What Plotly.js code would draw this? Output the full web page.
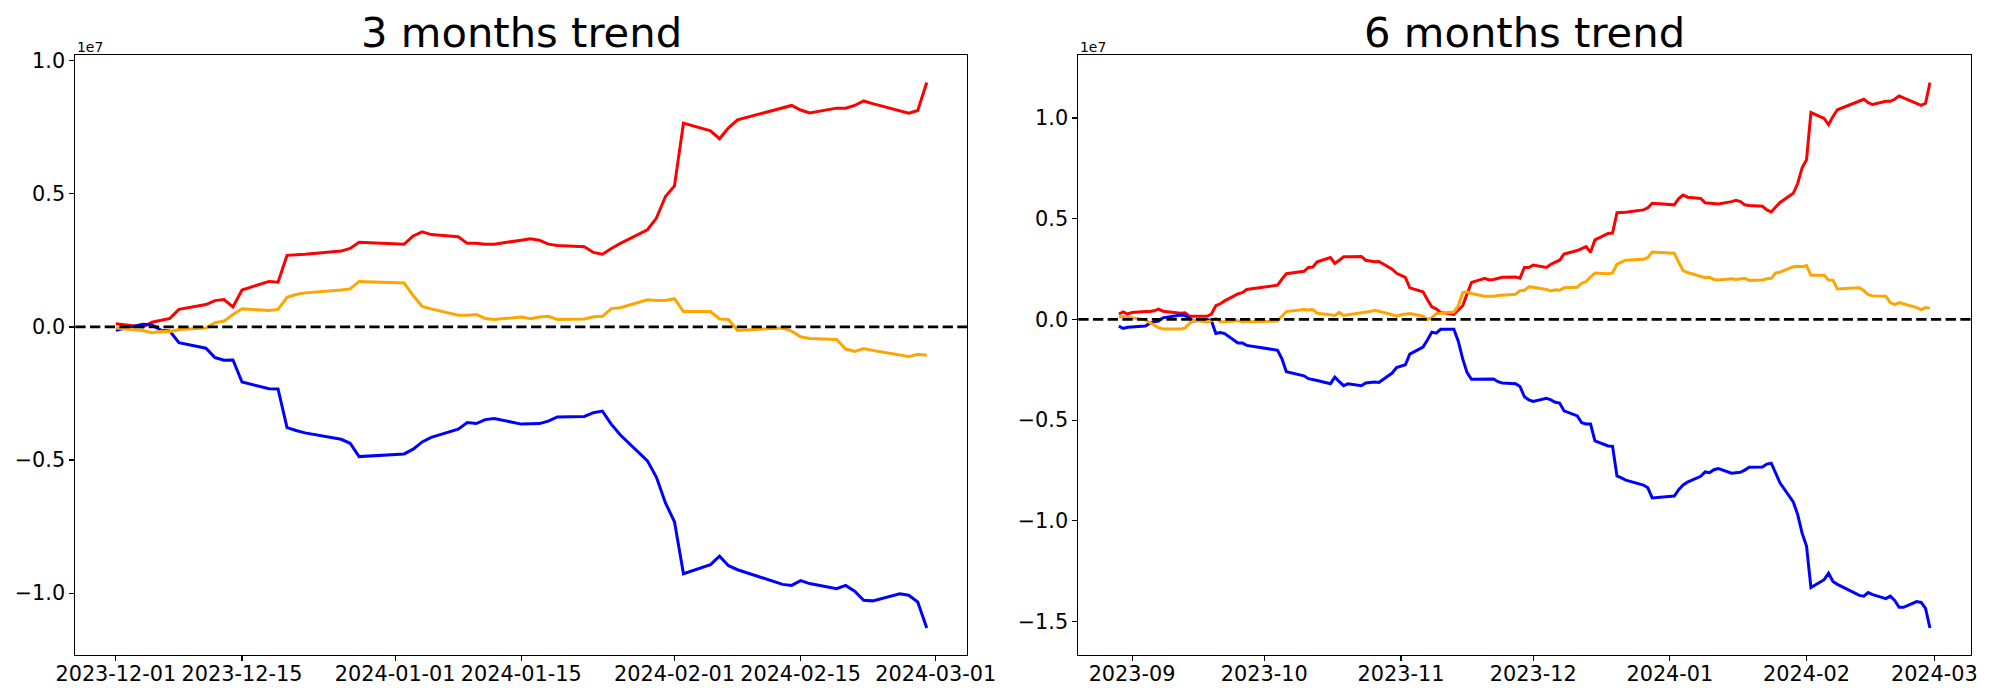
<!DOCTYPE html>
<html><head><meta charset="utf-8">
<script src="https://cdn.plot.ly/plotly-3.0.1.min.js"></script>
<style>html,body{margin:0;padding:0;background:#fff}#chart{width:2000px;height:700px}</style>
</head><body><div id="chart"></div>
<script>
// Trading days, Dec 2023 - Feb 2024 (3 months window)
const dates3m = ["2023-12-01","2023-12-04","2023-12-05","2023-12-06","2023-12-07","2023-12-08","2023-12-11","2023-12-12","2023-12-13","2023-12-14","2023-12-15","2023-12-18","2023-12-19","2023-12-20","2023-12-21","2023-12-22","2023-12-26","2023-12-27","2023-12-28",
"2024-01-02","2024-01-03","2024-01-04","2024-01-05","2024-01-08","2024-01-09","2024-01-10","2024-01-11","2024-01-12","2024-01-15","2024-01-16","2024-01-17","2024-01-18","2024-01-19","2024-01-22","2024-01-23","2024-01-24","2024-01-25","2024-01-26","2024-01-29","2024-01-30","2024-01-31",
"2024-02-01","2024-02-02","2024-02-05","2024-02-06","2024-02-07","2024-02-08","2024-02-13","2024-02-14","2024-02-15","2024-02-16","2024-02-19","2024-02-20","2024-02-21","2024-02-22","2024-02-23","2024-02-26","2024-02-27","2024-02-28","2024-02-29"];
// Extra trading days before Dec 2023 for the 6 months window
const datesEarly = ["2023-08-29","2023-08-30","2023-08-31","2023-09-01","2023-09-04","2023-09-05","2023-09-06","2023-09-07","2023-09-08","2023-09-11","2023-09-12","2023-09-13","2023-09-14","2023-09-15","2023-09-18","2023-09-19","2023-09-20","2023-09-21","2023-09-22","2023-09-25","2023-09-26","2023-09-27",
"2023-10-04","2023-10-05","2023-10-06","2023-10-10","2023-10-11","2023-10-12","2023-10-13","2023-10-16","2023-10-17","2023-10-18","2023-10-19","2023-10-20","2023-10-23","2023-10-24","2023-10-25","2023-10-26","2023-10-27","2023-10-30","2023-10-31",
"2023-11-01","2023-11-02","2023-11-03","2023-11-06","2023-11-07","2023-11-08","2023-11-09","2023-11-10","2023-11-13","2023-11-14","2023-11-15","2023-11-16","2023-11-17","2023-11-20","2023-11-21","2023-11-22","2023-11-23","2023-11-24","2023-11-27","2023-11-28","2023-11-29","2023-11-30"];
const dates6m = datesEarly.concat(dates3m);

// Values in units of 1e7
const red3m = [0.012,0.000,0.018,0.025,0.032,0.066,0.084,0.099,0.103,0.075,0.139,0.171,0.168,0.269,0.271,0.273,0.285,0.295,0.318,
0.311,0.342,0.357,0.347,0.339,0.314,0.314,0.311,0.311,0.326,0.331,0.326,0.311,0.306,0.301,0.280,0.273,0.295,0.314,0.365,0.409,0.490,
0.530,0.766,0.737,0.707,0.748,0.778,0.823,0.832,0.815,0.804,0.822,0.822,0.832,0.849,0.839,0.812,0.803,0.813,0.918];
const blue3m = [-0.013,0.010,0.007,-0.012,-0.016,-0.059,-0.080,-0.115,-0.125,-0.124,-0.207,-0.232,-0.233,-0.378,-0.389,-0.398,-0.422,-0.437,-0.487,
-0.477,-0.459,-0.432,-0.415,-0.384,-0.359,-0.363,-0.348,-0.344,-0.365,-0.364,-0.363,-0.354,-0.338,-0.336,-0.322,-0.316,-0.366,-0.406,-0.503,-0.565,-0.661,
-0.732,-0.927,-0.893,-0.861,-0.897,-0.912,-0.967,-0.971,-0.953,-0.964,-0.983,-0.971,-0.993,-1.027,-1.029,-1.002,-1.008,-1.033,-1.131];
const orange3m = [-0.004,-0.013,-0.022,-0.016,-0.018,-0.010,-0.004,0.016,0.022,0.047,0.068,0.062,0.066,0.111,0.122,0.128,0.139,0.143,0.171,
0.165,0.118,0.077,0.068,0.044,0.044,0.047,0.032,0.028,0.037,0.031,0.037,0.040,0.028,0.030,0.038,0.040,0.069,0.072,0.102,0.099,0.099,
0.106,0.058,0.058,0.030,0.028,-0.013,-0.004,-0.016,-0.037,-0.043,-0.047,-0.083,-0.092,-0.081,-0.088,-0.105,-0.112,-0.103,-0.106];

const red6m = [0.027,0.037,0.027,
0.035,0.039,0.039,0.043,0.051,0.041,0.033,0.031,0.033,0.016,0.016,0.016,0.027,0.068,0.078,0.092,0.127,0.133,0.149,
0.170,0.200,0.227,0.239,0.258,0.260,0.286,0.307,0.278,0.294,0.311,0.311,0.313,0.294,0.290,0.286,0.288,0.250,0.229,
0.219,0.209,0.157,0.137,0.098,0.063,0.053,0.035,0.025,0.045,0.068,0.127,0.184,0.204,0.196,0.198,0.205,0.209,0.211,0.205,0.258,0.258,
0.270,0.258,0.274,0.284,0.294,0.325,0.342,0.352,0.362,0.333,0.395,0.427,0.429,0.530,0.530,0.532,0.544,0.554,0.577,
0.569,0.600,0.618,0.607,0.601,0.579,0.577,0.573,0.573,0.585,0.591,0.585,0.569,0.566,0.562,0.544,0.534,0.558,0.581,0.626,0.675,0.753,
0.793,1.027,0.998,0.967,1.008,1.041,1.085,1.093,1.076,1.067,1.083,1.083,1.093,1.110,1.100,1.074,1.063,1.073,1.176];
const blue6m = [-0.033,-0.045,-0.039,
-0.037,-0.033,-0.020,-0.012,-0.008,0.008,0.018,0.022,0.020,0.008,-0.008,0.000,-0.006,-0.070,-0.065,-0.070,-0.117,-0.117,-0.129,
-0.153,-0.196,-0.260,-0.280,-0.294,-0.297,-0.303,-0.319,-0.286,-0.309,-0.329,-0.319,-0.329,-0.315,-0.313,-0.311,-0.313,-0.266,-0.239,
-0.231,-0.225,-0.172,-0.137,-0.102,-0.063,-0.068,-0.049,-0.049,-0.108,-0.196,-0.264,-0.297,-0.297,-0.294,-0.296,-0.309,-0.315,-0.319,-0.333,-0.384,-0.399,
-0.407,-0.391,-0.399,-0.411,-0.415,-0.454,-0.479,-0.513,-0.519,-0.519,-0.603,-0.628,-0.630,-0.777,-0.787,-0.798,-0.822,-0.836,-0.886,
-0.877,-0.845,-0.822,-0.808,-0.779,-0.757,-0.761,-0.746,-0.740,-0.763,-0.761,-0.759,-0.748,-0.734,-0.732,-0.718,-0.714,-0.767,-0.812,-0.906,-0.969,-1.061,
-1.125,-1.331,-1.292,-1.260,-1.301,-1.315,-1.370,-1.374,-1.356,-1.366,-1.386,-1.374,-1.395,-1.429,-1.429,-1.401,-1.405,-1.434,-1.532];
const orange6m = [0.012,0.014,0.010,
0.008,-0.002,-0.016,-0.029,-0.041,-0.047,-0.049,-0.047,-0.043,-0.020,-0.004,-0.012,-0.006,0.006,-0.012,-0.012,-0.006,-0.012,-0.012,
-0.008,0.016,0.039,0.049,0.047,0.049,0.031,0.023,0.020,0.035,0.020,0.023,0.031,0.037,0.039,0.045,0.041,0.023,0.016,
0.023,0.027,0.029,0.016,0.000,0.008,0.029,0.031,0.037,0.068,0.133,0.137,0.129,0.115,0.115,0.115,0.119,0.121,0.125,0.143,0.145,0.162,
0.160,0.149,0.141,0.147,0.145,0.157,0.160,0.180,0.188,0.211,0.231,0.227,0.231,0.274,0.286,0.294,0.299,0.307,0.335,
0.329,0.284,0.243,0.233,0.211,0.207,0.209,0.198,0.196,0.202,0.198,0.202,0.204,0.194,0.196,0.202,0.204,0.231,0.235,0.262,0.264,0.262,
0.268,0.219,0.219,0.196,0.194,0.151,0.157,0.143,0.123,0.117,0.115,0.084,0.074,0.084,0.078,0.059,0.049,0.059,0.055];

const ticks3m = ["2023-12-01","2023-12-15","2024-01-01","2024-01-15","2024-02-01","2024-02-15","2024-03-01"];
const tickText3m = ["2023-12-01","2023-12-15","2024-01-01","2024-01-15","2024-02-01","2024-02-15","2024-03-01"];
const ticks6m = ["2023-09-01","2023-10-01","2023-11-01","2023-12-01","2024-01-01","2024-02-01","2024-03-01"];
const tickText6m = ["2023-09","2023-10","2023-11","2023-12","2024-01","2024-02","2024-03"];
const titles = ["3 months trend","6 months trend"];
const colors = {red:"#ff0000", blue:"#0000ff", orange:"#ffa500"};

function padRange(a, b, f){ const d=(b-a)*f; return [a-d, b+d]; }
function xRange(dates){
  const t = dates.map(d=>new Date(d+"T00:00:00Z").getTime());
  const r = padRange(Math.min(...t), Math.max(...t), 0.05);
  return r.map(v=>new Date(v).toISOString().replace("T"," ").replace("Z",""));
}
function yRange(...arrs){
  const all=[].concat(...arrs);
  return padRange(Math.min(...all), Math.max(...all), 0.05);
}

const FONT = "DejaVu Sans";
const lineW = 3.0;
function tr(x,y,c,xa,ya){ return {x:x,y:y,type:"scatter",mode:"lines",line:{color:c,width:lineW},xaxis:xa,yaxis:ya,hoverinfo:"skip",showlegend:false}; }

const data = [
  tr(dates3m, red3m, colors.red, "x", "y"),
  tr(dates3m, blue3m, colors.blue, "x", "y"),
  tr(dates3m, orange3m, colors.orange, "x", "y"),
  tr(dates6m, red6m, colors.red, "x2", "y2"),
  tr(dates6m, blue6m, colors.blue, "x2", "y2"),
  tr(dates6m, orange6m, colors.orange, "x2", "y2")
];

const W=2000, H=700;
const dom1=[75.3/W, 967.3/W], dom2=[1078.3/W, 1970.5/W];
const ydom=[1-655.3/H, 1-55.3/H];
const axisBase = {showgrid:false, zeroline:false, showline:true, mirror:true, linecolor:"#000", linewidth:1.1,
  ticks:"outside", ticklen:4.9, tickwidth:1.1, tickcolor:"#000", tickfont:{family:FONT,size:20.8,color:"#000"}};

const layout = {
  width:W, height:H, margin:{l:0,r:0,t:0,b:0}, paper_bgcolor:"#fff", plot_bgcolor:"#fff",
  font:{family:FONT,color:"#000"}, showlegend:false,
  xaxis:Object.assign({}, axisBase, {type:"date", domain:dom1, anchor:"y", range:xRange(dates3m), tickmode:"array", tickvals:ticks3m, ticktext:tickText3m, ticklabelstandoff:-5}),
  yaxis:Object.assign({}, axisBase, {domain:ydom, anchor:"x", range:yRange(red3m,blue3m,orange3m), tickmode:"linear", tick0:0, dtick:0.5, tickformat:".1f"}),
  xaxis2:Object.assign({}, axisBase, {type:"date", domain:dom2, anchor:"y2", range:xRange(dates6m), tickmode:"array", tickvals:ticks6m, ticktext:tickText6m, ticklabelstandoff:-5}),
  yaxis2:Object.assign({}, axisBase, {domain:ydom, anchor:"x2", range:yRange(red6m,blue6m,orange6m), tickmode:"linear", tick0:0, dtick:0.5, tickformat:".1f"}),
  shapes:[
    {type:"line", xref:"x domain", x0:0, x1:1, yref:"y", y0:0, y1:0, layer:"above", line:{color:"#000", width:2.8, dash:"10.3px,4.4px"}},
    {type:"line", xref:"x2 domain", x0:0, x1:1, yref:"y2", y0:0, y1:0, layer:"above", line:{color:"#000", width:2.8, dash:"10.3px,4.4px"}}
  ],
  annotations:[
    {text:titles[0], xref:"paper", yref:"paper", x:(dom1[0]+dom1[1])/2, y:1-59.5/H, xanchor:"center", yanchor:"bottom", showarrow:false, font:{family:FONT,size:41.7,color:"#000"}},
    {text:titles[1], xref:"paper", yref:"paper", x:(dom2[0]+dom2[1])/2, y:1-59.5/H, xanchor:"center", yanchor:"bottom", showarrow:false, font:{family:FONT,size:41.7,color:"#000"}},
    {text:"1e7", xref:"paper", yref:"paper", x:dom1[0], y:1-57/H, xanchor:"left", yanchor:"bottom", showarrow:false, font:{family:FONT,size:13.9,color:"#000"}},
    {text:"1e7", xref:"paper", yref:"paper", x:dom2[0], y:1-57/H, xanchor:"left", yanchor:"bottom", showarrow:false, font:{family:FONT,size:13.9,color:"#000"}}
  ]
};

Plotly.newPlot("chart", data, layout, {displayModeBar:false, staticPlot:true});
</script></body></html>
